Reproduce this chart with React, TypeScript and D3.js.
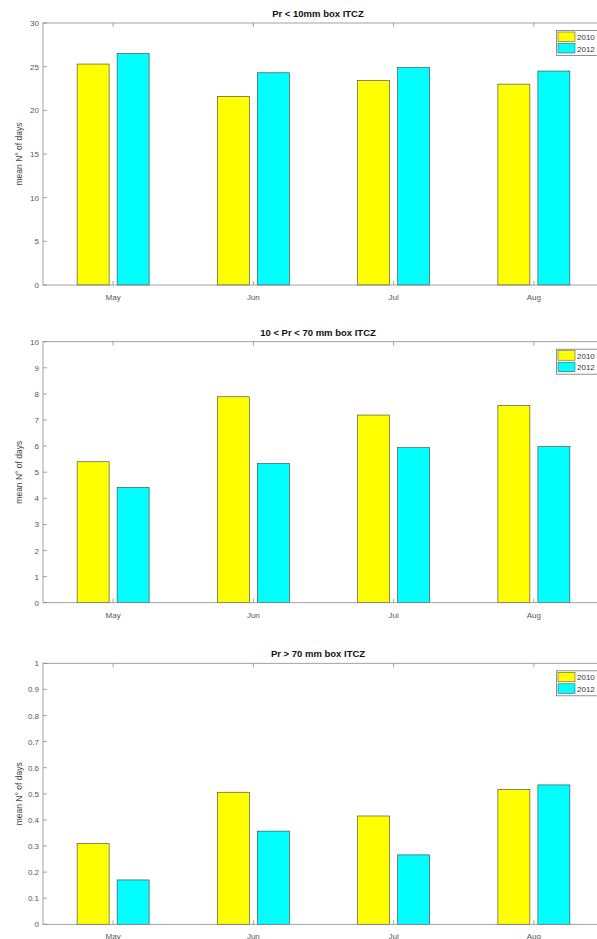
import React from "react";
import * as d3 from "d3";

const months = ["May", "Jun", "Jul", "Aug"];
const years = ["2010", "2012"];
const colors = ["#ffff00", "#00ffff"];

const titles = ["Pr < 10mm box ITCZ", "10 < Pr < 70 mm box ITCZ", "Pr > 70 mm box ITCZ"];
const yMax = [30, 10, 1];
const yTicks = [
  [0, 5, 10, 15, 20, 25, 30],
  [0, 1, 2, 3, 4, 5, 6, 7, 8, 9, 10],
  [0, 0.1, 0.2, 0.3, 0.4, 0.5, 0.6, 0.7, 0.8, 0.9, 1],
];
const yTickLabels = [
  ["0", "5", "10", "15", "20", "25", "30"],
  ["0", "1", "2", "3", "4", "5", "6", "7", "8", "9", "10"],
  ["0", "0.1", "0.2", "0.3", "0.4", "0.5", "0.6", "0.7", "0.8", "0.9", "1"],
];

const p1_2010 = [25.3, 21.6, 23.4, 23.0];
const p1_2012 = [26.5, 24.3, 24.9, 24.5];
const p2_2010 = [5.4, 7.89, 7.19, 7.55];
const p2_2012 = [4.42, 5.33, 5.94, 5.98];
const p3_2010 = [0.31, 0.506, 0.415, 0.517];
const p3_2012 = [0.17, 0.357, 0.266, 0.534];

const panelData = [
  [p1_2010, p1_2012],
  [p2_2010, p2_2012],
  [p3_2010, p3_2012],
];

const W = 597;
const H = 939;
const left = 43;
const right = 604;
const tops = [23, 341.7, 663.3];
const bottoms = [285, 602.7, 924.3];
const font = "'Liberation Sans', Arial, Helvetica, sans-serif";
const axisColor = "#8a8a8a";
const textColor = "#555";

function Panel({ idx }: { idx: number }) {
  const top = tops[idx];
  const bottom = bottoms[idx];
  const x = d3.scaleBand<string>().domain(months).range([left, right]).padding(0);
  const sub = d3.scaleBand<string>().domain(years).range([-36, 36]).paddingInner(0.2).paddingOuter(0);
  const y = d3.scaleLinear().domain([0, yMax[idx]]).range([bottom, top]);
  const data = panelData[idx];
  const tl = 4;
  const cx = (m: string) => (x(m) as number) + x.bandwidth() / 2;
  return (
    <g>
      <rect x={left} y={top} width={right - left} height={bottom - top} fill="#fff" />
      {months.map((m, i) =>
        years.map((yr, j) => (
          <rect
            key={m + yr}
            x={cx(m) + (sub(yr) as number)}
            y={y(data[j][i])}
            width={sub.bandwidth()}
            height={bottom - y(data[j][i])}
            fill={colors[j]}
            stroke="#3a3a3a"
            strokeWidth={0.6}
          />
        ))
      )}
      <rect x={left} y={top} width={right - left} height={bottom - top} fill="none" stroke={axisColor} strokeWidth={0.8} />
      {yTicks[idx].map((t, k) => (
        <g key={"yt" + k}>
          <line x1={left} x2={left + tl} y1={y(t)} y2={y(t)} stroke={axisColor} strokeWidth={0.8} />
          <text x={left - 4} y={y(t) + 3} textAnchor="end" fontSize={8} fill={textColor} fontFamily={font}>
            {yTickLabels[idx][k]}
          </text>
        </g>
      ))}
      {months.map((m) => (
        <g key={"xt" + m}>
          <line x1={cx(m)} x2={cx(m)} y1={bottom} y2={bottom - tl} stroke={axisColor} strokeWidth={0.8} />
          <line x1={cx(m)} x2={cx(m)} y1={top} y2={top + tl} stroke={axisColor} strokeWidth={0.8} />
          <text x={cx(m)} y={bottom + 15} textAnchor="middle" fontSize={8} fill={textColor} fontFamily={font}>
            {m}
          </text>
        </g>
      ))}
      <text
        transform={`translate(22,${(top + bottom) / 2}) rotate(-90)`}
        textAnchor="middle"
        fontSize={8.5}
        fill="#444"
        fontFamily={font}
      >
        mean N° of days
      </text>
      <text x={318} y={top - 6} textAnchor="middle" fontSize={9.5} fontWeight="bold" fill="#111" fontFamily={font}>
        {titles[idx]}
      </text>
      <g>
        <rect x={556.5} y={top + 7.5} width={45} height={25} fill="#fff" stroke="#777" strokeWidth={0.8} />
        {years.map((yr, j) => (
          <g key={"lg" + yr}>
            <rect x={558} y={top + 9 + j * 11.5} width={17} height={9.5} fill={colors[j]} stroke="#3a3a3a" strokeWidth={0.5} />
            <text x={577} y={top + 17 + j * 11.5} fontSize={8} fill="#333" fontFamily={font}>
              {yr}
            </text>
          </g>
        ))}
      </g>
    </g>
  );
}

export default function App() {
  return (
    <svg
      width={W}
      height={H}
      style={{ position: "absolute", left: 0, top: 0, background: "#fff" }}
      xmlns="http://www.w3.org/2000/svg"
    >
      <rect x={0} y={0} width={W} height={H} fill="#fff" />
      {[0, 1, 2].map((i) => (
        <Panel key={i} idx={i} />
      ))}
    </svg>
  );
}
